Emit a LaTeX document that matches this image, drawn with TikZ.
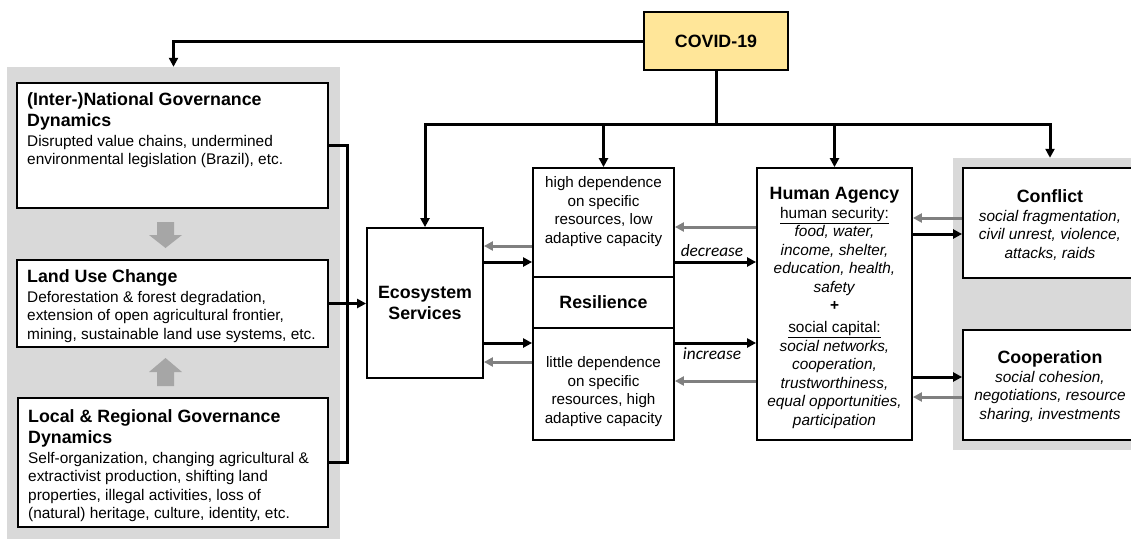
\documentclass[tikz,border=0pt]{standalone}
\usepackage{fontspec}
\setmainfont{Liberation Sans}
\newfontfamily\labelfont{Carlito}
\usetikzlibrary{arrows.meta}

\definecolor{panelgray}{RGB}{217,217,217}
\definecolor{blockgray}{RGB}{166,166,166}
\definecolor{arrowgray}{RGB}{128,128,128}
\definecolor{covidfill}{RGB}{255,230,153}

\tikzset{
  panel/.style={fill=panelgray, draw=none, inner sep=0pt},
  box/.style={draw=black, line width=1.8pt, fill=white, inner sep=0pt},
  blkline/.style={line width=3pt, draw=black},
  blk/.style={blkline, -{Triangle[length=9pt,width=9pt]}},
  gry/.style={line width=3pt, draw=arrowgray, -{Triangle[length=9pt,width=9pt]}},
  head/.style={font=\fontsize{17.8}{21}\selectfont\bfseries, inner sep=0pt},
  body/.style={font=\fontsize{15.4}{18.5}\selectfont, inner sep=0pt},
  itbody/.style={font=\fontsize{15.4}{18.5}\selectfont\itshape, inner sep=0pt},
  resbody/.style={font=\fontsize{15.2}{18.5}\selectfont, inner sep=0pt, align=center},
  flow/.style={font=\labelfont\itshape\fontsize{17.3}{18}\selectfont, inner sep=0pt},
  block/.style={fill=blockgray, draw=none},
}

\begin{document}
\begin{tikzpicture}[x=1pt,y=-1pt]
\useasboundingbox (0,0) rectangle (1131,538);
\clip (0,0) rectangle (1131,538);

% background panels
\node[panel, minimum width=333pt, minimum height=480pt] (leftpanel) at (173.5,307) {};
\node[panel, minimum width=194pt, minimum height=292pt] (rightpanel) at (1050,304) {};

% left column: governance and land use
\node[box, minimum width=311pt, minimum height=125pt] (nat) at (172.5,145.5) {};
\node[head, anchor=north west, align=left] (nathead) at (27,92.5) {(Inter-)National Governance\\Dynamics};
\node[body, anchor=north west, align=left] (natbody) at (27,135) {Disrupted value chains, undermined\\environmental legislation (Brazil), etc.};

\node[box, minimum width=311pt, minimum height=87pt] (land) at (172.5,303.5) {};
\node[head, anchor=north west, align=left] (landhead) at (27,269.5) {Land Use Change};
\node[body, anchor=north west, align=left] (landbody) at (27,291) {Deforestation \& forest degradation,\\extension of open agricultural frontier,\\mining, sustainable land use systems, etc.};

\node[box, minimum width=310pt, minimum height=129pt] (local) at (173,462.5) {};
\node[head, anchor=north west, align=left] (localhead) at (28,409.5) {Local \& Regional Governance\\Dynamics};
\node[body, anchor=north west, align=left] (localbody) at (28,452) {Self-organization, changing agricultural \&\\extractivist production, shifting land\\properties, illegal activities, loss of\\(natural) heritage, culture, identity, etc.};

% block arrows between the left boxes
\fill[block] (157,222) -- (174,222) -- (174,235) -- (182,235) -- (165.5,248) -- (149,235) -- (157,235) -- cycle;
\fill[block] (165.5,358) -- (182,372) -- (174,372) -- (174,386) -- (157,386) -- (157,372) -- (149,372) -- cycle;

% central boxes
\node[box, minimum width=116pt, minimum height=150pt, align=center, head] (es) at (425,303) {Ecosystem\\Services};

\node[box, minimum width=141pt, minimum height=109pt] (restop) at (603.5,222.5) {};
\node[box, minimum width=141pt, minimum height=51pt, head] (resmid) at (603.5,302.5) {Resilience};
\node[box, minimum width=141pt, minimum height=112pt] (resbot) at (603.5,384) {};
\node[resbody, anchor=north] (restoptext) at (603.5,176.5) {high dependence\\on specific\\resources, low\\adaptive capacity};
\node[resbody, anchor=north] (resbottext) at (603.5,356.5) {little dependence\\on specific\\resources, high\\adaptive capacity};

\node[box, minimum width=155pt, minimum height=272pt] (ha) at (834.5,304) {};
\node[head, anchor=base] (hahead) at (834.5,199) {Human Agency};
\node[body, anchor=north, align=center] (habody) at (834.5,207) {\underline{human security:}\\
  \textit{food, water,}\\ \textit{income, shelter,}\\ \textit{education, health,}\\ \textit{safety}\\
  \textbf{+}\\[3.5pt]
  \underline{social capital:}\\
  \textit{social networks,}\\ \textit{cooperation,}\\ \textit{trustworthiness,}\\ \textit{equal opportunities,}\\ \textit{participation}};

% right column: outcomes
\node[box, minimum width=174pt, minimum height=110pt] (conf) at (1050,223) {};
\node[head, anchor=base] (confhead) at (1050,202) {Conflict};
\node[itbody, anchor=north, align=center] (confbody) at (1050,210) {social fragmentation,\\civil unrest, violence,\\attacks, raids};

\node[box, minimum width=174pt, minimum height=110pt] (coop) at (1050,385) {};
\node[head, anchor=base] (coophead) at (1050,363) {Cooperation};
\node[itbody, anchor=north, align=center] (coopbody) at (1050,371) {social cohesion,\\negotiations, resource\\sharing, investments};

% driver
\node[box, fill=covidfill, minimum width=144pt, minimum height=58pt, head] (covid) at (716,41) {COVID-19};

% distribution bus below the driver
\coordinate (hub) at (716,124);
\draw[blkline] (covid.south) -- (hub);
\draw[blk] (hub) -| (es.north);
\draw[blk] (hub) -| (rightpanel.north);
\draw[blk] (restop.north |- hub) -- (restop.north);
\draw[blk] (ha.north |- hub) -- (ha.north);
\draw[blk] (covid.west) -| (leftpanel.north);

% bracket collecting the left column
\coordinate (brk) at (347,300);
\draw[blkline, line join=miter] (nat.east) -- (nat.east -| brk) |- (local.east);
\draw[blk] (land.east) -- (land.east -| es.west);

% row heights of the horizontal links
\coordinate (rA) at (0,246);
\coordinate (rB) at (0,262);
\coordinate (rC) at (0,343);
\coordinate (rD) at (0,362);
\coordinate (rE) at (0,227);
\coordinate (rF) at (0,381);
\coordinate (rG) at (0,218);
\coordinate (rH) at (0,234);
\coordinate (rI) at (0,377);
\coordinate (rJ) at (0,397);

% ecosystem services <-> resilience
\draw[gry] (restop.west |- rA) -- (es.east |- rA);
\draw[blk] (es.east |- rB) -- (restop.west |- rB);
\draw[blk] (es.east |- rC) -- (resbot.west |- rC);
\draw[gry] (resbot.west |- rD) -- (es.east |- rD);

% resilience <-> human agency
\draw[gry] (ha.west |- rE) -- (restop.east |- rE);
\draw[blk] (restop.east |- rB) -- (ha.west |- rB);
\draw[blk] (resbot.east |- rC) -- (ha.west |- rC);
\draw[gry] (ha.west |- rF) -- (resbot.east |- rF);
\node[flow, anchor=base] (decr) at (712,256) {decrease};
\node[flow, anchor=base] (incr) at (712,359) {increase};

% human agency <-> outcomes
\draw[gry] (conf.west |- rG) -- (ha.east |- rG);
\draw[blk] (ha.east |- rH) -- (conf.west |- rH);
\draw[blk] (ha.east |- rI) -- (coop.west |- rI);
\draw[gry] (coop.west |- rJ) -- (ha.east |- rJ);
\end{tikzpicture}
\end{document}
